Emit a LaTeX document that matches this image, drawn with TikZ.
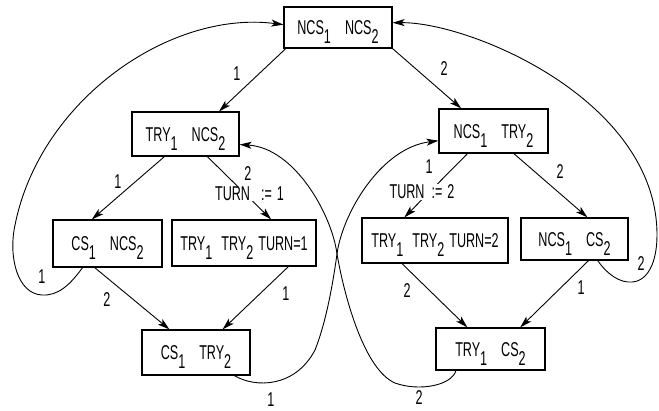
\documentclass[tikz,border=0pt]{standalone}
\usepackage{fontspec}
\setmainfont{Liberation Sans}[FakeStretch=0.63]
\usetikzlibrary{arrows.meta}
\newcommand\sbs[1]{\raisebox{-9pt}{#1}}
\begin{document}
\begin{tikzpicture}[x=1pt,y=-1pt,
  font=\fontsize{20}{22}\selectfont,
  box/.style={draw, line width=1.2pt, inner sep=0pt, text height=14pt, text depth=0pt},
  arr/.style={line width=0.9pt, -{Stealth[length=12pt,width=7pt,inset=3pt]}},
  lab/.style={inner sep=0pt},
  act/.style={inner sep=0.5pt, fill=white}]
\useasboundingbox (0,0) rectangle (659,410);
% states
\node[box, minimum width=108pt, minimum height=41pt] (N0) at (338,27.5) {NCS\sbs1\hspace{14pt}NCS\sbs2};
\node[box, minimum width=107pt, minimum height=44pt] (A) at (185.5,134) {TRY\sbs1\hspace{14pt}NCS\sbs2};
\node[box, minimum width=109pt, minimum height=44pt] (B) at (493.5,131) {NCS\sbs1\hspace{14pt}TRY\sbs2};
\node[box, minimum width=109pt, minimum height=47pt] (C) at (107.5,243.5) {CS\sbs1\hspace{14pt}NCS\sbs2};
\node[box, minimum width=144pt, minimum height=46pt] (D) at (244,243) {TRY\sbs1\hspace{9pt}TRY\sbs2\hspace{5pt}TURN=1};
\node[box, minimum width=146pt, minimum height=45pt] (E) at (435,240.5) {TRY\sbs1\hspace{9pt}TRY\sbs2\hspace{5pt}TURN=2};
\node[box, minimum width=107pt, minimum height=42pt] (F) at (574.5,239) {NCS\sbs1\hspace{14pt}CS\sbs2};
\node[box, minimum width=108pt, minimum height=45pt] (G) at (196,352.5) {CS\sbs1\hspace{14pt}TRY\sbs2};
\node[box, minimum width=109pt, minimum height=42pt] (H) at (490.5,349) {TRY\sbs1\hspace{14pt}CS\sbs2};
% straight transitions
\draw[arr] (N0.202) -- (A.34);
\draw[arr] (N0.south east) -- (B.145);
\draw[arr] (A.227) -- (C.123);
\draw[arr] (A.314) -- (D.41);
\draw[arr] (B.221) -- (E.143);
\draw[arr] (B.312) -- (F.59);
\draw[arr] (C.242) -- (G.139);
\draw[arr] (D.332) -- (G.41);
\draw[arr] (E.215) -- (H.137);
\draw[arr] (F.303) -- (H.36);
% loops
\draw[arr] (C.224) .. controls (70,285) and (58,296) .. (42,295)
  .. controls (18,294) and (8,258) .. (15,225)
  .. controls (40,100) and (170,10) .. (N0.177);
\draw[arr] (F.317) .. controls (608,275) and (620,283) .. (632,282)
  .. controls (648,281) and (657,262) .. (657,235)
  .. controls (657,100) and (470,22) .. (N0.5);
\draw[arr] (G.329) .. controls (255,388) and (295,388) .. (315,350)
  .. controls (325,325) and (332,290) .. (337,254)
  .. controls (342,215) and (380,148) .. (B.190);
\draw[arr] (H.212) .. controls (452,385) and (420,392) .. (395,383)
  .. controls (365,370) and (345,300) .. (337,254)
  .. controls (332,215) and (295,148) .. (A.349);
% labels
\node[lab] (l1) at (237,74) {1};
\node[lab] (l2) at (444,69) {2};
\node[lab] (l3) at (118,182) {1};
\node[act] (t1) at (249.5,194) {TURN\hspace{11pt}:=\hspace{5pt}1};
\node[lab] (l4) at (248,174) {2};
\node[act] (t2) at (422,192) {TURN\hspace{7pt}:=\hspace{5pt}2};
\node[lab] (l5) at (429,167) {1};
\node[lab] (l6) at (560,172) {2};
\node[lab] (l7) at (107,300) {2};
\node[lab] (l8) at (42,277) {1};
\node[lab] (l9) at (286,294) {1};
\node[lab] (l10) at (271,400) {1};
\node[lab] (l11) at (407,291) {2};
\node[lab] (l12) at (581,288) {1};
\node[lab] (l13) at (641,264) {2};
\node[lab] (l14) at (419,398) {2};
\end{tikzpicture}
\end{document}
